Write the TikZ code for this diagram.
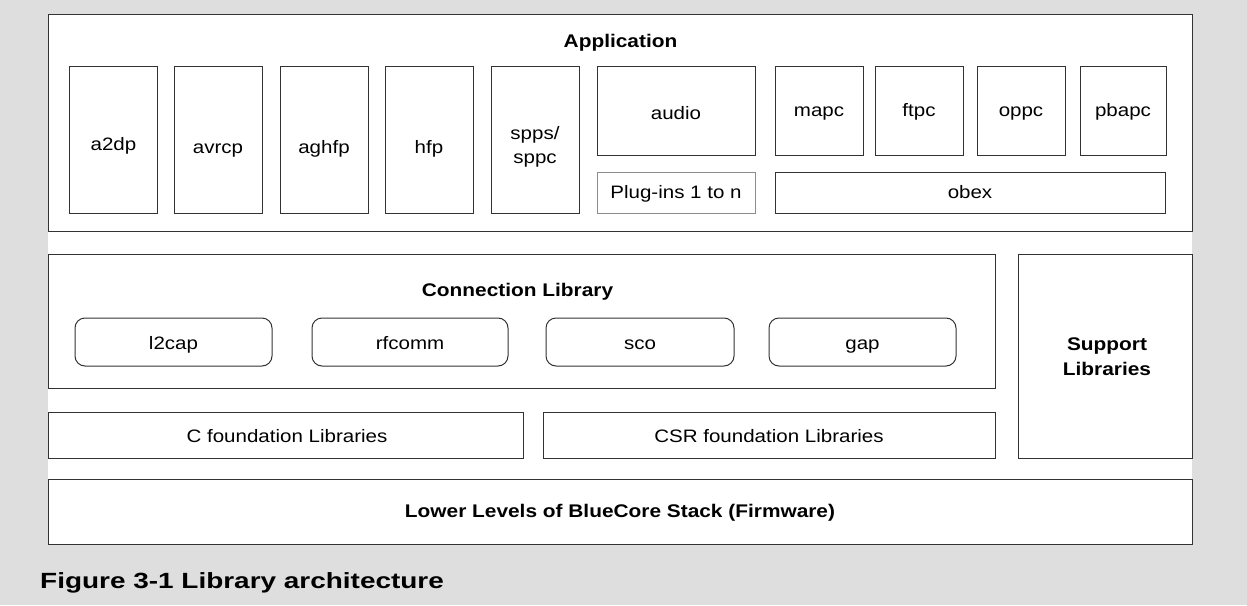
\documentclass[tikz,border=0pt]{standalone}
\usepackage{fontspec}
\setmainfont{Liberation Sans}[FakeStretch=1.14]
\newfontfamily\capfont{Liberation Sans}[FakeStretch=1.27]
\definecolor{bgc}{HTML}{DEDEDE}
\definecolor{edge}{HTML}{333333}
\begin{document}
\begin{tikzpicture}[x=1pt,y=-1pt,
  box/.style={draw=edge,line width=1pt,fill=white,inner sep=0pt},
  lightbox/.style={box,draw=black!45},
  rbox/.style={box,rounded corners=10pt},
  txt/.style={anchor=base,inner sep=0pt,font=\fontsize{18}{22}\selectfont},
  btxt/.style={txt,font=\fontsize{18.3}{22}\selectfont\bfseries}]
\fill[bgc] (0,0) rectangle (1247,605);
\useasboundingbox (0,0) rectangle (1247,605);
\fill[white] (48,14) rectangle (1192,545);
% Application
\node[box,minimum width=1144pt,minimum height=217pt] (app) at (620,122.5) {};
\node[btxt] (appt) at (620.5,47) {Application};
\node[box,minimum width=88pt,minimum height=147pt] (a2dp) at (113,139.5) {};
\node[txt] (a2dpt) at (113.5,150) {a2dp};
\node[box,minimum width=88pt,minimum height=147pt] (avrcp) at (218,139.5) {};
\node[txt] (avrcpt) at (218,153) {avrcp};
\node[box,minimum width=88pt,minimum height=147pt] (aghfp) at (324,139.5) {};
\node[txt] (aghfpt) at (324,153) {aghfp};
\node[box,minimum width=88pt,minimum height=147pt] (hfp) at (429,139.5) {};
\node[txt] (hfpt) at (429,153) {hfp};
\node[box,minimum width=88pt,minimum height=147pt] (spp) at (535,139.5) {};
\node[txt] (sppt1) at (535,139) {spps/};
\node[txt] (sppt2) at (535,163) {sppc};
\node[box,minimum width=158pt,minimum height=89pt] (audio) at (676,110.5) {};
\node[txt] (audiot) at (676,119.3) {audio};
\node[lightbox,minimum width=158pt,minimum height=41pt] (plug) at (676,192.5) {};
\node[txt] (plugt) at (676,198) {Plug-ins 1 to n};
\node[box,minimum width=88pt,minimum height=89pt] (mapc) at (819,110.5) {};
\node[txt] (mapct) at (819,116.7) {mapc};
\node[box,minimum width=88pt,minimum height=89pt] (ftpc) at (919,110.5) {};
\node[txt] (ftpct) at (919,116.7) {ftpc};
\node[box,minimum width=88pt,minimum height=89pt] (oppc) at (1021,110.5) {};
\node[txt] (oppct) at (1021,116.7) {oppc};
\node[box,minimum width=86pt,minimum height=89pt] (pbapc) at (1123,110.5) {};
\node[txt] (pbapct) at (1123,116.7) {pbapc};
\node[box,minimum width=390pt,minimum height=41pt] (obex) at (970,192.5) {};
\node[txt] (obext) at (970,198) {obex};
% Connection library
\node[box,minimum width=947pt,minimum height=134pt] (conn) at (521.5,321) {};
\node[btxt] (connt) at (517.5,296) {Connection Library};
\node[rbox,minimum width=197pt,minimum height=48pt] (l2cap) at (173.5,342) {};
\node[txt] (l2capt) at (173.5,349) {l2cap};
\node[rbox,minimum width=196pt,minimum height=48pt] (rfcomm) at (410,342) {};
\node[txt] (rfcommt) at (410,349) {rfcomm};
\node[rbox,minimum width=188pt,minimum height=48pt] (sco) at (640,342) {};
\node[txt] (scot) at (640,349) {sco};
\node[rbox,minimum width=187pt,minimum height=48pt] (gap) at (862.5,342) {};
\node[txt] (gapt) at (862.5,349) {gap};
% foundations
\node[box,minimum width=475pt,minimum height=46pt] (cfound) at (285.5,435) {};
\node[txt] (cfoundt) at (287,442.5) {C foundation Libraries};
\node[box,minimum width=452pt,minimum height=46pt] (csr) at (769,435) {};
\node[txt] (csrt) at (769,442.5) {CSR foundation Libraries};
\node[box,minimum width=174pt,minimum height=204pt] (support) at (1105,356) {};
\node[btxt] (supt1) at (1107,350) {Support};
\node[btxt] (supt2) at (1107,375) {Libraries};
\node[box,minimum width=1144pt,minimum height=65pt] (lower) at (620,511.5) {};
\node[btxt] (lowert) at (620,517.5) {Lower Levels of BlueCore Stack (Firmware)};
% caption
\node[anchor=base west,inner sep=0pt,font=\capfont\fontsize{22}{26}\selectfont\bfseries] (cap) at (40,588) {Figure 3-1 Library architecture};
\end{tikzpicture}
\end{document}
